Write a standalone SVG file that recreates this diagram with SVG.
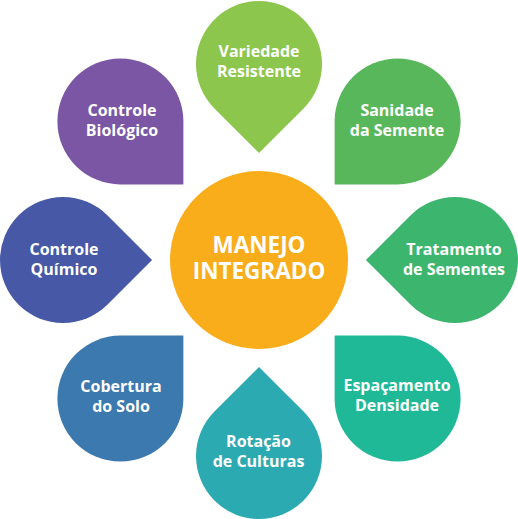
<svg xmlns="http://www.w3.org/2000/svg" xmlns:xlink="http://www.w3.org/1999/xlink" width="518" height="519" viewBox="0 0 518 519">
<style>
  .lbl { font-family: "Open Sans", "Liberation Sans", sans-serif; font-weight: 700; font-size: 16px; fill: #ffffff; text-anchor: middle; }
  .ctr { font-family: "Open Sans", "Liberation Sans", sans-serif; font-weight: 700; font-size: 22.5px; fill: #ffffff; text-anchor: middle; }
</style>
<defs>
  <path id="drop" d="M-63,63 L-63,0 A63,63 0 1 1 0,63 Z"/>
</defs>
<rect width="518" height="519" fill="#ffffff"/>
<g id="variedade">
  <use xlink:href="#drop" href="#drop" transform="translate(259,64) rotate(-45)" fill="#8CC64C"/>
  <text class="lbl" x="259" y="57">Variedade</text>
  <text class="lbl" x="259" y="77">Resistente</text>
</g>
<g id="sanidade">
  <use xlink:href="#drop" href="#drop" transform="translate(397.6,121.4)" fill="#58B75A"/>
  <text class="lbl" x="397" y="116">Sanidade</text>
  <text class="lbl" x="397" y="135.5">da Semente</text>
</g>
<g id="tratamento">
  <use xlink:href="#drop" href="#drop" transform="translate(455,260) rotate(45)" fill="#3CB66F"/>
  <text class="lbl" x="454" y="255">Tratamento</text>
  <text class="lbl" x="454" y="274.5">de Sementes</text>
</g>
<g id="espacamento">
  <use xlink:href="#drop" href="#drop" transform="translate(397.6,398.6) rotate(90)" fill="#20B998"/>
  <text class="lbl" x="397" y="391">Espaçamento</text>
  <text class="lbl" x="397" y="410.5">Densidade</text>
</g>
<g id="rotacao">
  <use xlink:href="#drop" href="#drop" transform="translate(259,456) rotate(135)" fill="#2BAAB1"/>
  <text class="lbl" x="258.5" y="447">Rotação</text>
  <text class="lbl" x="258.5" y="467">de Culturas</text>
</g>
<g id="cobertura">
  <use xlink:href="#drop" href="#drop" transform="translate(120.4,398.6) rotate(180)" fill="#3B79AF"/>
  <text class="lbl" x="121" y="392">Cobertura</text>
  <text class="lbl" x="121" y="411.5">do Solo</text>
</g>
<g id="quimico">
  <use xlink:href="#drop" href="#drop" transform="translate(63,260) rotate(-135)" fill="#4658A6"/>
  <text class="lbl" x="64" y="255">Controle</text>
  <text class="lbl" x="64" y="274.5">Químico</text>
</g>
<g id="biologico">
  <use xlink:href="#drop" href="#drop" transform="translate(120.4,121.4) rotate(-90)" fill="#7A56A4"/>
  <text class="lbl" x="122" y="116">Controle</text>
  <text class="lbl" x="122" y="136">Biológico</text>
</g>
<g id="manejo">
  <circle cx="259" cy="260" r="89" fill="#F9AD1B"/>
  <text class="ctr" x="259" y="253">MANEJO</text>
  <text class="ctr" x="259" y="279">INTEGRADO</text>
</g>
</svg>
